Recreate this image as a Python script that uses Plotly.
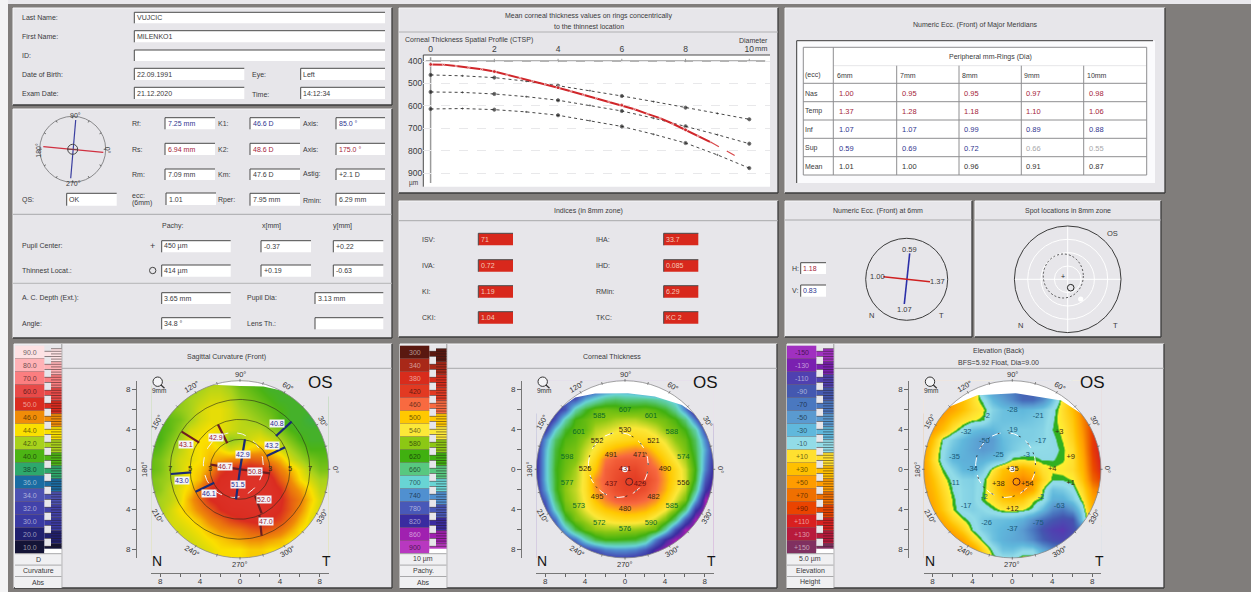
import numpy as np
import plotly.graph_objects as go

W, H = 1251, 592
FONT = "Liberation Sans, Arial"
PANEL = "#e7e6ea"
TXT = "#3a3a3c"
RED = "#a5243a"
BLUE = "#2f358f"

# ---------- data ----------
ctsp_x = [0, 0.4, 0.8, 1.2, 1.6, 2, 2.4, 2.8, 3.2, 3.6, 4, 4.4, 4.8, 5.2, 5.6, 6, 6.4, 6.8, 7.2, 7.6, 8, 8.4, 8.8]
ctsp_patient = [415, 416, 422, 428, 437, 447, 461, 477, 489, 502, 519, 535, 551, 566, 580, 596, 615, 636, 655, 680, 707, 734, 763]
ctsp_ext_x = [8.8, 9.2, 9.6]
ctsp_ext = [763, 796, 826]
norm_x = [0, 1, 2, 3, 4, 5, 6, 7, 8, 9, 10]
norm_upper = [462, 466, 474, 490, 510, 532, 556, 581, 608, 634, 660]
norm_mean = [538, 540, 547, 559, 575, 598, 623, 655, 691, 729, 769]
norm_lower = [614, 612, 617, 627, 642, 666, 692, 727, 766, 819, 878]
ctsp_xticks = [0, 2, 4, 6, 8, 10]
ctsp_yticks = [400, 500, 600, 700, 800, 900]

ecc_columns = ["6mm", "7mm", "8mm", "9mm", "10mm"]
ecc_rows = ["Nas", "Temp", "Inf", "Sup", "Mean"]
ecc_values = [["1.00", "0.95", "0.95", "0.97", "0.98"],
              ["1.37", "1.28", "1.18", "1.10", "1.06"],
              ["1.07", "1.07", "0.99", "0.89", "0.88"],
              ["0.59", "0.69", "0.72", "0.66", "0.55"],
              ["1.01", "1.00", "0.96", "0.91", "0.87"]]
indices_left = [("ISV:", "71"), ("IVA:", "0.72"), ("KI:", "1.19"), ("CKI:", "1.04")]
indices_right = [("IHA:", "33.7"), ("IHD:", "0.085"), ("RMin:", "6.29"), ("TKC:", "KC 2")]

grid_mm = list(range(-9, 10))

curv_levels = [90, 80, 70, 60, 50, 46, 44, 42, 40, 38, 36, 34, 32, 30, 20, 10]
curv_labels = ["90.0", "80.0", "70.0", "60.0", "50.0", "46.0", "44.0", "42.0", "40.0", "38.0", "36.0", "34.0", "32.0", "30.0", "20.0", "10.0"]
curv_colors = ["#fde2e4", "#ffb2b6", "#fb7e80", "#e84a48", "#da2c20", "#f08c08", "#fbe000", "#a8d21c", "#4cb414", "#2ea86c", "#1a6ca2", "#4c52b2", "#4242aa", "#3a3aa2", "#20206e", "#141436"]
curv_grid = [  # rows from y=+9 to y=-9, columns x=-9..9 (mm)
 [41,41,41,41,42,42,42,42,41,40,40,40,40,40,40,40,40,40,40],
 [41,41,41,41,41.5,42,42.5,42.5,42,41,40.5,40,39.5,39.5,39.5,39.5,39.5,39.5,39.5],
 [41,41,41,41.5,42,42.5,43,43,42.5,41.5,41,40.5,40,39.5,39.5,39.5,39.5,39.5,39.5],
 [41,41,41,41.5,42,43,43.5,43.5,43,42,41.5,41,40.5,40,39.5,39.5,39.5,39.5,39.5],
 [40,40,40.5,41,42,43,43.5,43.5,43,42.5,42,41.5,41,40,39.5,39.5,39,39,39],
 [40,40,40.5,41.5,43,43.5,44,43.5,43,42.5,42.5,42.5,41.5,41,40,39.5,39.5,39.5,39.5],
 [40,40,41,42,43.5,44,44,43,41.5,42,43,43.5,43,42,41,40,39.5,39.5,39.5],
 [40,40.5,41.5,42.5,43.5,44,44.5,44,43,43.5,44.5,45,44.5,43,42,41,40,40,40],
 [40.5,41,42,43,43.5,44,45,45.5,46,46.5,48,47.5,46,45,43,42,41,40.5,40.5],
 [40.5,41,42,43,44,44.5,46,49,50.5,51,51,50.5,49,46.5,45,43.5,42,41,41],
 [41,41.5,42,43,44,45,48,50.5,51,51.5,52,52,51,48,46,44,43,42,42],
 [41,41.5,42.5,43.5,44.5,47,50,51,51.5,52,52,52,51.5,50,47,45.5,44,42.5,42.5],
 [41.5,42,42.5,43.5,45.5,47.5,50,51,51.5,52,52,52,51.5,50.5,48,46.5,44.5,43,43],
 [41.5,42,43,44,45,46.5,48,50,51,51,51.5,51.5,51,50,48,46,44,43,43],
 [42,42.5,43,43.5,44,45,46.5,47.5,49,50,50.5,51,50,49,47,45,43.5,43,43],
 [42.5,43,43,43,43.5,44,45,46,46.5,47,48,48.5,48,47,45.5,44,43.5,43,43],
 [43,43,43,43,43,43.5,44,44.5,45,45.5,46,46,45.5,45,44,44,43.5,43,43],
 [43,43,43,43,43,43,43.5,44,44,44,44.5,44.5,44,44,44,44,43.5,43,43],
 [43,43,43,43,43,43,43.5,44,44,44,44.5,44.5,44,44,44,44,43.5,43,43],
]

pachy_levels = [300, 340, 380, 420, 460, 500, 540, 580, 620, 660, 700, 740, 780, 820, 860, 900]
pachy_labels = [str(v) for v in pachy_levels]
pachy_colors = ["#5a1810", "#a82818", "#d82c1c", "#e23a22", "#f86a40", "#ffc800", "#fce838", "#8cc814", "#40b010", "#58c880", "#68d4d4", "#5090d0", "#4858b8", "#3a2ca0", "#a020b0", "#b838c0"]
pachy_grid = [
 [840]*19,
 [820,820,820,820,820,800,780,760,740,740,750,780,800,820,850,860,860,860,860],
 [800,800,790,780,780,720,690,660,650,660,660,660,670,690,720,780,820,850,860],
 [800,800,820,780,680,630,600,595,600,607,605,600,610,630,670,750,850,860,860],
 [800,850,780,680,615,600,585,580,570,565,565,575,585,595,615,660,760,860,860],
 [790,810,700,630,605,600,565,555,545,535,535,540,555,580,595,620,680,800,850],
 [830,740,650,610,600,575,552,535,525,520,515,520,530,550,580,600,650,750,840],
 [830,720,635,600,590,560,535,505,490,480,472,480,505,530,560,590,640,730,830],
 [830,715,630,600,585,550,515,465,450,445,445,450,480,510,540,570,630,740,830],
 [830,715,625,595,570,530,500,452,440,432,430,445,458,490,520,555,620,750,840],
 [830,715,630,585,565,530,475,450,435,425,422,432,450,485,520,552,630,780,850],
 [830,730,630,580,560,530,480,455,437,428,428,438,458,490,530,565,660,810,860],
 [830,770,650,585,565,535,495,470,452,445,448,458,475,510,550,590,720,860,860],
 [830,800,690,600,575,545,520,500,490,480,482,490,510,540,585,660,810,860,860],
 [830,820,760,640,590,570,550,535,525,520,522,530,555,590,660,780,860,860,860],
 [840,830,800,720,640,600,578,572,572,576,578,585,600,680,790,860,860,860,860],
 [840,840,820,800,760,690,640,620,620,625,630,660,750,820,860,860,860,860,860],
 [840,840,840,840,820,800,780,750,740,740,750,780,830,860,860,860,860,860,860],
 [840,840,840,840,840,840,830,820,810,810,820,830,850,860,860,860,860,860,860],
]
label_x = [0, -2.58, 2.6, -4.63, 0, -2.8, 2.85, 4.7, -5.8, -1.4, 1.44, 5.85, -4, 0, 4, -5.8, -1.4, 1.5, 5.85, -2.8, 2.85, -4.63, 0, 4.7, -2.58, 0, 2.6]
label_y = [5.95, 5.35, 5.35, 3.71, 3.95, 2.8, 2.8, 3.71, 1.27, 1.4, 1.4, 1.27, 0, 0, 0, -1.34, -1.47, -1.47, -1.34, -2.8, -2.8, -3.74, -4, -3.74, -5.4, -6, -5.4]
pachy_values = [607, 585, 601, 601, 530, 552, 521, 588, 598, 491, 471, 574, 526, 431, 490, 577, 437, 429, 556, 495, 482, 573, 480, 585, 572, 576, 590]

elev_levels = [-150, -130, -110, -90, -70, -50, -30, -10, 10, 30, 50, 70, 90, 110, 130, 150]
elev_labels = ["-150", "-130", "-110", "-90", "-70", "-50", "-30", "-10", "+10", "+30", "+50", "+70", "+90", "+110", "+130", "+150"]
elev_colors = ["#a030c0", "#7a20b0", "#5040b0", "#4458b0", "#4a78c0", "#5a9ad0", "#60b8dc", "#92dce8", "#ffe030", "#ffc000", "#ff9c00", "#f07000", "#ea4400", "#d82020", "#b81a3c", "#803060"]
elev_grid = [
 [70,70,70,60,50,40,30,10,-40,-60,-70,-80,-80,-70,-50,5,40,70,100],
 [60,60,60,55,50,30,-25,-50,-60,-70,-85,-85,-70,-50,-5,5,40,90,100],
 [60,60,55,45,30,12,-5,-30,-45,-60,-80,-80,-60,-25,8,30,60,90,100],
 [60,60,55,45,30,15,5,-15,-25,-28,-30,-27,-21,-8,12,30,65,95,105],
 [60,55,45,25,12,4,0,-20,-25,-25,-25,-22,-18,-4,10,25,60,90,110],
 [55,50,30,8,-8,-25,-30,-30,-22,-19,-18,-18,-15,-2,5,22,55,95,110],
 [55,30,-3,-18,-30,-40,-50,-48,-28,-22,-18,-17,-14,-5,3,18,50,95,115],
 [55,20,-8,-25,-33,-42,-50,-45,-30,-20,-12,-8,-8,-6,0,12,45,95,115],
 [50,15,-10,-30,-35,-36,-35,-28,-22,2,3,1,-3,-3,1,10,40,90,115],
 [50,22,0,-15,-30,-34,-20,5,28,35,42,30,10,4,6,12,35,85,110],
 [50,30,8,-6,-15,-17,-5,18,35,48,60,50,18,-1,-1,3,28,75,95],
 [50,35,15,-3,-13,-16,-3,15,38,50,55,42,2,-25,-20,-8,15,55,70],
 [50,40,20,1,-13,-16,0,10,25,30,25,5,-3,-35,-35,-20,5,45,60],
 [50,45,25,3,-12,-17,-12,-3,5,8,3,-5,-30,-60,-70,-50,-10,40,55],
 [60,55,40,18,3,-8,-20,-25,-26,-28,-35,-55,-75,-90,-100,-95,-20,30,40],
 [70,60,55,40,20,-3,-18,-26,-32,-37,-50,-70,-95,-110,-115,-100,-70,-30,-20],
 [70,70,65,60,45,18,-3,-24,-34,-40,-45,-60,-85,-100,-105,-95,-70,-50,-30],
 [70,70,70,65,60,50,18,-5,-24,-25,-15,-15,-40,-60,-70,-70,-60,-50,-30],
 [70,70,70,65,60,50,25,5,-5,-5,10,10,-20,-40,-50,-50,-50,-40,-30],
]
elev_values = ["-28", "-2", "-21", "-32", "-19", "-50", "-17", "+3", "-35", "-25", "-3", "+9", "-34", "+35", "+4", "-11", "+38", "+54", "+1", "-2", "-2", "-17", "+12", "-63", "-26", "-37", "-75"]

curv_text = ["43.1", "42.9", "40.8", "43.2", "42.9", "46.7", "50.8", "43.0", "46.1", "51.5", "52.0", "47.0"]
curv_text_x = [-5.4, -2.41, 3.75, 3.21, 0.33, -1.5, 1.5, -5.8, -3.1, -0.2, 2.41, 2.6]
curv_text_y = [2.53, 3.2, 4.6, 2.41, 1.5, 0.27, -0.17, -1.14, -2.44, -1.5, -3.07, -5.28]
curv_text_red = [1, 1, 0, 0, 0, 1, 1, 0, 0, 0, 1, 1]
red_bars = [((-5.85, 3.78), (-4.08, 2.68)), ((-2.21, 4.48), (-1.27, 2.61)), ((-2.94, 0.47), (0, 0)),
            ((0, 0), (3.01, -0.40)), ((1.51, -2.68), (2.17, -4.41)), ((1.94, -4.58), (2.17, -6.66))]
blue_bars = [((5.18, 4.78), (3.61, 3.34)), ((4.52, 2.21), (2.68, 1.34)), ((0.50, 3.01), (0, 0)),
             ((0, 0), (-0.40, -3.01)), ((-6.92, -0.47), (-4.88, -0.30)), ((-4.45, -2.24), (-2.58, -1.34))]
ring_radii = [3, 5, 7]
ruler_vals = [-8, -6, -4, -2, 0, 2, 4, 6, 8]
ruler_text = ["8", "", "4", "", "0", "", "4", "", "8"]
ring_angles = [0, 30, 60, 90, 120, 150, 180, 210, 240, 270, 300, 330]
pachy_white_x = [-6.9, -6.25, -5.0, -3.0, 0.3, 3.0, 5.7, 7.36, 8.2, 9, 9, -9, -9]
pachy_white_y = [5.6, 6.29, 7.2, 7.6, 7.63, 7.3, 6.45, 5.3, 4.6, 4.6, 9, 9, 5.6]
elev_white_x = [-6.9, -6.25, -3.5, 0.3, 4.9, 7.36, 8.2, 9, 9, -9, -9]
elev_white_y = [5.6, 6.29, 7.42, 7.63, 6.9, 5.3, 4.6, 4.6, 9, 9, 5.6]
curv_white_x = [-3.4, -2.7, 0, 2.34, 4.35, 5.2, 9, 9, -9, -9]
curv_white_y = [8.4, 8.48, 8.35, 8.3, 7.85, 7.3, 7.3, 9, 9, 8.4]

# ---------- helpers ----------
shapes, anns = [], []
fx = lambda x: x / W
fy = lambda y: 1 - y / H


def rect(x0, y0, x1, y1, fill, layer="below"):
    shapes.append(dict(type="rect", xref="paper", yref="paper", x0=fx(x0), x1=fx(x1), y0=fy(y0), y1=fy(y1),
                       fillcolor=fill, line=dict(width=0), layer=layer))


def line(x0, y0, x1, y1, color="#333", w=1, dash="solid", layer="below"):
    shapes.append(dict(type="line", xref="paper", yref="paper", x0=fx(x0), x1=fx(x1), y0=fy(y0), y1=fy(y1),
                       line=dict(color=color, width=w, dash=dash), layer=layer))


def circle(cx, cy, rx, ry=None, color="#333", w=1, dash="solid", fill=None, layer="below"):
    ry = rx if ry is None else ry
    shapes.append(dict(type="circle", xref="paper", yref="paper", x0=fx(cx - rx), x1=fx(cx + rx), y0=fy(cy + ry), y1=fy(cy - ry),
                       line=dict(color=color, width=w, dash=dash), fillcolor=fill or "rgba(0,0,0,0)", layer=layer))


def text(x, y, s, size=7, color=TXT, anchor="left", angle=0, family=FONT):
    anns.append(dict(xref="paper", yref="paper", x=fx(x), y=fy(y), text=s, showarrow=False, xanchor=anchor, yanchor="middle",
                     font=dict(size=size, color=color, family=family), textangle=angle, borderpad=0, borderwidth=0))


def panel(x0, y0, x1, y1):
    rect(x0, y0, x1, y1, PANEL)
    line(x0, y0, x1, y0, "#f6f6f8", 1)
    line(x0, y0, x0, y1, "#f6f6f8", 1)
    line(x1, y0, x1, y1, "#3c3c3c", 1.3)
    line(x0, y1, x1, y1, "#3c3c3c", 1.3)


def field(x0, y0, x1, y1, s="", color=TXT, fill="#ffffff", tcolor=None):
    rect(x0, y0, x1, y1, fill)
    line(x0, y0, x1, y0, "#4a4a4a", 1)
    line(x0, y0, x0, y1, "#4a4a4a", 1)
    text(x0 + 2.5, (y0 + y1) / 2, s, 7, tcolor or color)


def hex2rgb(c):
    return [int(c[i:i + 2], 16) for i in (1, 3, 5)]


def legend_text(c):
    r, g, b = hex2rgb(c)
    lum = 0.3 * r + 0.59 * g + 0.11 * b
    t = 0 if lum > 95 else 255
    k = 0.55
    return "rgb(%d,%d,%d)" % tuple(int(v + (t - v) * k) for v in (r, g, b))


# ---------- background ----------
rect(0, 0, W, 4, "#e9e8ec")
rect(0, 0, 8, H, "#f4f4f5")

# ---------- patient panel ----------
panel(13, 8, 392, 105)
rows = [("Last Name:", 17.7), ("First Name:", 36.5), ("ID:", 55.5), ("Date of Birth:", 74), ("Exam Date:", 93)]
for s, y in rows:
    text(21.7, y, s)
field(134.3, 12.3, 385, 23.3, "VUJCIC")
field(134.3, 30.7, 385, 42.3, "MILENKO1")
field(134.3, 50, 385, 61)
field(134.3, 68.3, 244.3, 80, "22.09.1991")
field(134.3, 87.3, 244.3, 99, "21.12.2020")
text(251.7, 75, "Eye:")
text(251.7, 94, "Time:")
field(300.7, 68.3, 385, 80, "Left")
field(300.7, 87.3, 385, 99, "14:12:34")

# ---------- keratometry panel ----------
panel(13, 109, 392, 338)
ky = [(117.7, 129.3), (143.3, 155), (169, 180)]
cols = [(131.7, 165, 215), (218.3, 250, 300), (302.7, 336, 385)]
kdata = [[("Rf:", "7.25 mm", BLUE), ("K1:", "46.6 D", BLUE), ("Axis:", "85.0 °", BLUE)],
         [("Rs:", "6.94 mm", RED), ("K2:", "48.6 D", RED), ("Axis:", "175.0 °", RED)],
         [("Rm:", "7.09 mm", TXT), ("Km:", "47.6 D", TXT), ("Astig:", "+2.1 D", TXT)]]
for (y0, y1), row in zip(ky, kdata):
    for (lx, a, b), (lab, val, c) in zip(cols, row):
        text(lx, (y0 + y1) / 2, lab)
        field(a, y0, b, y1, val, c)
text(21.7, 200, "QS:")
field(66.7, 193.3, 116.7, 205.7, "OK")
text(131.7, 195, "ecc:")
text(131.7, 203, "(6mm)")
field(166, 193, 216, 205, "1.01")
text(218.3, 200, "Rper:")
field(250, 193.3, 300, 205.7, "7.95 mm")
text(302.7, 200, "Rmin:")
field(336, 193.3, 385, 205.7, "6.29 mm")
line(13, 214.3, 392, 214.3, "#a8a8aa", 1)
line(13, 283.3, 392, 283.3, "#b4b4b6", 1)
text(162.3, 225.7, "Pachy:")
text(261.7, 225.7, "x[mm]")
text(333.3, 225.7, "y[mm]")
text(21.7, 246.3, "Pupil Center:")
text(21.7, 270.5, "Thinnest Locat.:")
text(152.7, 246.3, "+", 9, anchor="center")
circle(152.7, 270.5, 3.2, color="#444", w=1)
field(161.7, 240.7, 230.7, 252.3, "450 µm")
field(261, 240.7, 311, 252.3, "-0.37")
field(333.3, 240.7, 383.3, 252.3, "+0.22")
field(161.7, 265, 230.7, 276.7, "414 µm")
field(261, 265, 311, 276.7, "+0.19")
field(333.3, 265, 383.3, 276.7, "-0.63")
text(21.7, 298.3, "A. C. Depth (Ext.):")
field(161.7, 292.7, 230.7, 304, "3.65 mm")
text(246.7, 298.3, "Pupil Dia:")
field(315, 292.7, 383.3, 304, "3.13 mm")
text(21.7, 323.5, "Angle:")
field(161.7, 317.7, 230.7, 329.3, "34.8 °")
text(246.7, 323.5, "Lens Th.:")
field(315, 317.7, 383.3, 329.3)
# axis gadget
circle(72.7, 149.3, 33, color="#8a8a8c", w=1)
for a in range(0, 360, 30):
    t = np.radians(a)
    line(72.7 + 31 * np.cos(t), 149.3 - 31 * np.sin(t), 72.7 + 33 * np.cos(t), 149.3 - 33 * np.sin(t), "#666", 1)
line(75.7, 120, 70.7, 178.3, "#3a3ea0", 1.2)
line(43.3, 146.7, 103.3, 152.3, "#d03040", 1.2)
circle(72.7, 149.3, 5, color="#444", w=1)
line(67, 149.3, 78, 149.3, "#444", 0.7)
text(75, 115, "90°", 7, TXT, "center")
text(73.3, 184, "270°", 7, TXT, "center")
text(37.7, 150, "180°", 7, TXT, "center", -90)
text(108.3, 150, "0°", 7, TXT, "center", 90)

# ---------- CTSP panel ----------
panel(399, 8, 778, 193)
text(588.7, 15.7, "Mean corneal thickness values on rings concentrically", 7, TXT, "center")
text(588.7, 26.3, "to the thinnest location", 7, TXT, "center")
line(399, 32, 778, 32, "#b0b0b2", 1)
text(405, 40.3, "Corneal Thickness Spatial Profile (CTSP)", 7)
text(767.7, 40.3, "Diameter", 7, TXT, "right")
text(768, 48, "mm", 7.5, TXT, "right")
rect(423.3, 55, 770, 186.7, "#ffffff")
line(423.3, 55, 770, 55, "#4a4a4a", 1)
line(423.3, 55, 423.3, 186.7, "#4a4a4a", 1)
text(413.3, 182.7, "µm", 6.5, TXT, "center")

# ---------- ecc table panel ----------
panel(785, 8, 1165, 193)
text(975, 25, "Numeric Ecc. (Front) of Major Meridians", 7, TXT, "center")
rect(796.7, 40.7, 1155, 183, "#fbfbfd")
line(796.7, 40.7, 1153, 40.7, "#3c3c3c", 1)
line(796.7, 40.7, 796.7, 183, "#3c3c3c", 1)
vx = [803.3, 833.3, 896.7, 959, 1021.3, 1083.7, 1146.7]
hy = [47.3, 65.7, 83.3, 101.7, 120, 138.3, 156.7, 175]
rect(803.3, 47.3, 1146.7, 175, "#ffffff")
for i, y in enumerate(hy):
    line(803.3 if i != 1 else 833.3, y, 1146.7, y, "#8e8e90" if i != 1 else "#e6e6e8", 1)
for i, x in enumerate(vx):
    line(x, 47.3 if i in (0, 1, 6) else 65.7, x, 175, "#8e8e90", 1)
text(990.7, 56.7, "Peripheral mm-Rings (Dia)", 7, TXT, "center")
text(805, 75, "(ecc)", 7)
tx = [839, 901.7, 964, 1026, 1088.7]
hx = [836.7, 900, 961.7, 1024.3, 1087]
ty = [93, 111.3, 129.7, 148, 166]
for x, s in zip(hx, ecc_columns):
    text(x, 75, s, 7)
for r, (y, name, vals) in enumerate(zip(ty, ecc_rows, ecc_values)):
    text(805, y, name, 7)
    for c, (x, v) in enumerate(zip(tx, vals)):
        col = RED if r < 2 else BLUE if r == 2 or (r == 3 and c < 3) else "#a8a8aa" if r == 3 else "#333"
        text(x, y, v, 7.5, col)

# ---------- indices ----------
panel(399, 201, 778, 337)
text(588.3, 211, "Indices (in 8mm zone)", 7, TXT, "center")
line(399, 220.7, 778, 220.7, "#a8a8aa", 1)
irow = [239.3, 265.7, 291.7, 317.7]
for y, (lab, val) in zip(irow, indices_left):
    text(422.3, y, lab)
    field(478.3, y - 6, 513, y + 6, val, fill="#d8281c", tcolor="#f4c8b8")
for y, (lab, val) in zip(irow, indices_right):
    text(596, y, lab)
    field(663.7, y - 6, 698.3, y + 6, val, fill="#d8281c", tcolor="#f4c8b8")

# ---------- ecc @6mm ----------
panel(785, 201, 972, 337)
text(878.3, 211, "Numeric Ecc. (Front) at 6mm", 7, TXT, "center")
line(785, 220, 972, 220, "#a8a8aa", 1)
text(795, 268.3, "H:", 7, TXT, "center")
text(795, 290.7, "V:", 7, TXT, "center")
field(800.7, 262.7, 826, 274, "1.18", RED)
field(800.7, 285, 826, 296.7, "0.83", BLUE)
circle(906.7, 279.3, 41, color="#3c3c3c", w=1)
line(909.7, 253.3, 904.3, 304, "#2b2fa8", 1.6)
line(883.3, 276.7, 930, 281.7, "#d02020", 1.6)
text(909.7, 249, "0.59", 7.5, TXT, "center")
text(877, 276.7, "1.00", 7.5, TXT, "center")
text(937.5, 281.7, "1.37", 7.5, TXT, "center")
text(904.3, 309, "1.07", 7.5, TXT, "center")
text(871, 315.7, "N", 7.5, TXT, "center")
text(941.7, 315.7, "T", 7.5, TXT, "center")

# ---------- spot locations ----------
panel(975, 201, 1161, 337)
text(1067.7, 211, "Spot locations in 8mm zone", 7, TXT, "center")
line(975, 220, 1161, 220, "#a8a8aa", 1)
for r in (13.3, 26.7, 40):
    circle(1067.7, 279.3, r, color="#ffffff", w=1)
line(1014.4, 279.3, 1121, 279.3, "#ffffff", 1)
line(1067.7, 226, 1067.7, 332.6, "#ffffff", 1)
circle(1067.7, 279.3, 53.3, color="#3c3c3c", w=1)
circle(1063.3, 276, 20, 22, color="#333", w=0.8, dash="2px,2px")
text(1062.7, 276, "+", 7, "#222", "center")
circle(1070.7, 287.7, 3.3, color="#222", w=1)
circle(1080.7, 299, 2.6, color="#ffffff", w=0, fill="#ffffff")
text(1112.7, 233, "OS", 7.5, TXT, "center")
text(1020, 325, "N", 7.5, TXT, "center")
text(1115.7, 325, "T", 7.5, TXT, "center")

# ---------- figure ----------
fig = go.Figure()
dot_line = dict(color="#333", width=0.9, dash="dot")
for series in (norm_upper, norm_mean, norm_lower):
    fig.add_trace(go.Scatter(x=norm_x, y=series, mode="lines+markers", line=dot_line,
                             marker=dict(size=[3.2 if v % 2 == 0 else 1.2 for v in norm_x], color="#111"), xaxis="x", yaxis="y"))
fig.add_trace(go.Scatter(x=ctsp_x, y=ctsp_patient, mode="lines+markers", line=dict(color="#d0262a", width=2),
                         marker=dict(size=[4 if float(v).is_integer() and v % 2 == 0 else 2 for v in ctsp_x], color="#d0262a"), xaxis="x", yaxis="y"))
fig.add_trace(go.Scatter(x=ctsp_ext_x, y=ctsp_ext, mode="lines", line=dict(color="#d8484a", width=1.2, dash="dash"), xaxis="x", yaxis="y"))
shapes.append(dict(type="line", xref="x", yref="y", x0=-0.15, x1=10.5, y0=400, y1=400, line=dict(color="#9a9a9a", width=1.5), layer="below"))
shapes.append(dict(type="line", xref="x", yref="y", x0=0, x1=0, y0=383, y1=945, line=dict(color="#9a9a9a", width=1.5), layer="below"))
for v in ctsp_xticks[1:]:
    shapes.append(dict(type="line", xref="x", yref="y", x0=v, x1=v, y0=390, y1=405, line=dict(color="#9a9a9a", width=1), layer="below"))

layout_axes = dict(
    xaxis=dict(domain=[fx(423.3), fx(770)], range=[-0.229, 10.65], side="top", tickvals=ctsp_xticks,
               ticktext=[str(v) for v in ctsp_xticks], showgrid=False, zeroline=False, ticks="",
               tickfont=dict(size=8.5, color=TXT, family=FONT), anchor="y", showline=False),
    yaxis=dict(domain=[fy(186.7), fy(55)], range=[961, 373], tickvals=ctsp_yticks, showgrid=True,
               gridcolor="#e8e8ea", griddash="dash", gridwidth=1, zeroline=False, ticks="",
               tickfont=dict(size=8.5, color=TXT, family=FONT), anchor="x", showline=False),
)

CY = 469.3
R = 8.88
theta = np.radians(np.arange(0, 361, 2))
maps = [
    dict(cx=240, lx=15, curve="curv", levels=curv_levels, labels=curv_labels, colors=curv_colors, grid=curv_grid,
         zmin=10, zmax=90, title=["Sagittal Curvature (Front)"], foot=["D", "Curvature", "Abs"],
         white=(curv_white_x, curv_white_y), panel=(14, 392), dash="#f4f4f4"),
    dict(cx=625, lx=400, curve="pachy", levels=pachy_levels, labels=pachy_labels, colors=pachy_colors, grid=pachy_grid,
         zmin=300, zmax=900, title=["Corneal Thickness"], foot=["10 µm", "Pachy.", "Abs"],
         white=(pachy_white_x, pachy_white_y), panel=(400, 777), dash="#ffffff"),
    dict(cx=1012.3, lx=787, curve="elev", levels=elev_levels, labels=elev_labels, colors=elev_colors, grid=elev_grid,
         zmin=-150, zmax=150, title=["Elevation (Back)", "BFS=5.92 Float, Dia=9.00"], foot=["5.0 µm", "Elevation", "Height"],
         white=(elev_white_x, elev_white_y), panel=(787, 1164), dash="#ffffff"),
]

for k, m in enumerate(maps):
    ax = k + 2
    cx, lx = m["cx"], m["lx"]
    xa, ya = f"x{ax}", f"y{ax}"
    p0, p1 = m["panel"]
    panel(p0, 344, p1, 588)
    # legend
    ladr = lx + 46.5
    line(ladr + 0.3, 344, ladr + 0.3, 588, "#9a9a9c", 1)
    header_mid = (ladr + p1) / 2
    line(ladr, 368.3, p1, 368.3, "#a8a8aa", 1)
    if len(m["title"]) == 1:
        text(header_mid, 356.7, m["title"][0], 7, TXT, "center")
    else:
        text(header_mid, 351, m["title"][0], 7, TXT, "center")
        text(header_mid, 362, m["title"][1], 7, TXT, "center")
    top = 345.7
    for i, (lab, c) in enumerate(zip(m["labels"], m["colors"])):
        y0 = top + 13 * i
        # ladder column
        rect(lx + 36, y0 + 3, ladr, y0 + 16 if i < 15 else y0 + 8.5, c)
        rect(lx + 29.3, y0 + 5.5, lx + 36, y0 + 10.5, c)
        for q in (3, 5.6, 8.2, 10.8, 13.4):
            if i == 15 and q > 8:
                continue
            line(lx + 36 if q not in (5.6, 10.8) else lx + 29.3, y0 + q, ladr, y0 + q, "#241818", 0.5)
        rect(lx, y0, lx + 29.3, y0 + 13, c)
        line(lx, y0 + 13, lx + 29.3, y0 + 13, "#4a2a2a", 0.5)
        text(lx + 14.6, y0 + 6.5, lab, 7, legend_text(c), "center")
    rect(lx + 29.3, 548.7, ladr, 553.7, "#ffffff")
    for i, s in enumerate(m["foot"]):
        y0 = 553.7 + 11.4 * i
        rect(lx, y0, ladr, y0 + 11.4, "#f0f0f2")
        line(lx, y0, ladr, y0, "#a8a8aa", 1)
        text(lx + 23.2, y0 + 5.7, s, 7, TXT, "center")

    # colour map
    cs = m["colors"]
    if m["curve"] == "elev":
        stops = []
        for v, c in zip(m["levels"], cs):
            if v == 10:
                stops += [(-2.6, "#8ed8e6"), (-2, "#30b020"), (2, "#30b020"), (2.6, "#fff030")]
            stops.append((v, c))
    else:
        stops = sorted(zip(m["levels"], cs))
    scale = [[(v - m["zmin"]) / (m["zmax"] - m["zmin"]), c] for v, c in stops]
    z = [row for row in reversed(m["grid"])]
    fig.add_trace(go.Heatmap(x=grid_mm, y=grid_mm, z=z, zsmooth="best", colorscale=scale, zmin=m["zmin"], zmax=m["zmax"],
                             showscale=False, hoverinfo="skip", xaxis=xa, yaxis=ya))
    axis_font = dict(size=8, color=TXT, family=FONT)
    layout_axes[f"xaxis{ax}"] = dict(domain=[fx(cx - 88.8), fx(cx + 88.8)], range=[-8.9, 8.9], anchor="free", position=fy(573),
                                     tickvals=ruler_vals, ticktext=ruler_text, ticks="outside", ticklen=3, tickcolor="#666",
                                     showgrid=False, zeroline=False, showline=True, linecolor="#777", tickfont=axis_font,
                                     side="bottom", ticklabelstandoff=-3)
    layout_axes[f"yaxis{ax}"] = dict(domain=[fy(CY + 88.8), fy(CY - 88.8)], range=[-8.9, 8.9], anchor="free", position=fx(cx - 104),
                                     tickvals=ruler_vals, ticktext=ruler_text, ticks="outside", ticklen=4, tickcolor="#666",
                                     showgrid=False, zeroline=False, showline=True, linecolor="#777", tickfont=axis_font, side="left")

    # pupil dashed outline
    t2 = np.radians(np.arange(0, 361, 3))
    fig.add_trace(go.Scatter(x=-0.67 + 3.0 * np.cos(t2), y=0.43 + 3.25 * np.sin(t2), mode="lines",
                             line=dict(color=m["dash"], width=1, dash="dash"), xaxis=xa, yaxis=ya))
    if k > 0:
        fig.add_trace(go.Scatter(x=-0.67 + 3.0 * np.cos(t2), y=0.43 + 3.25 * np.sin(t2), mode="lines",
                                 line=dict(color="#222", width=0.8, dash="2px,9px"), xaxis=xa, yaxis=ya))

    if k == 0:
        for r in ring_radii:
            fig.add_trace(go.Scatter(x=r * np.cos(theta), y=r * np.sin(theta), mode="lines",
                                     line=dict(color="#2a2a1c", width=0.6), xaxis=xa, yaxis=ya))
            for sx in (-1, 1):
                anns.append(dict(xref=xa, yref=ya, x=sx * r, y=0.05, text=str(r), showarrow=False,
                                 font=dict(size=7.5, color="#2a2a1c", family=FONT)))
        for segs, c in ((red_bars, "#6e1e20"), (blue_bars, "#1a2a74")):
            for (a, b) in segs:
                fig.add_trace(go.Scatter(x=[a[0], b[0]], y=[a[1], b[1]], mode="lines", line=dict(color=c, width=2.2),
                                         xaxis=xa, yaxis=ya))
        for s, x, y, red in zip(curv_text, curv_text_x, curv_text_y, curv_text_red):
            anns.append(dict(xref=xa, yref=ya, x=x, y=y, text=s, showarrow=False, bgcolor="#f4f4f8", borderpad=0,
                             font=dict(size=7, color="#a02030" if red else "#2a2a90", family=FONT)))
    else:
        vals = pachy_values if k == 1 else elev_values
        if k == 1:
            cols_txt = ["#0a6a2a" if v >= 560 else "#701010" if v < 450 else "#3a2a10" for v in vals]
        else:
            cols_txt = ["#1a5a78" if v.startswith("-") else "#3a2a10" for v in vals]
        fig.add_trace(go.Scatter(x=[0], y=[0], mode="markers", marker=dict(size=6, color="#ffffff"), xaxis=xa, yaxis=ya))
        fig.add_trace(go.Scatter(x=label_x, y=label_y, mode="text", text=[str(v) for v in vals],
                                 textfont=dict(size=7.5, color=cols_txt, family=FONT), xaxis=xa, yaxis=ya))
        fig.add_trace(go.Scatter(x=[0.42], y=[-1.25], mode="markers",
                                 marker=dict(size=7, color="rgba(0,0,0,0)", line=dict(color="#5a2020", width=1)), xaxis=xa, yaxis=ya))

    # white area (no data) and outer mask, above the map
    wx, wy = m["white"]
    path = "M" + " L".join(f"{x},{y}" for x, y in zip(wx, wy)) + " Z"
    shapes.append(dict(type="path", xref=xa, yref=ya, path=path, fillcolor="#ffffff", line=dict(width=0), layer="above"))
    circ = " L".join(f"{R * np.cos(t):.3f},{R * np.sin(t):.3f}" for t in theta[:-1])
    mask = f"M-9.5,-9.5 L9.5,-9.5 L9.5,9.5 L-9.5,9.5 Z M{circ} Z"
    shapes.append(dict(type="path", xref=xa, yref=ya, path=mask, fillcolor=PANEL, line=dict(width=0), layer="above"))

    # ring, ticks, angle labels
    s = 88.8 / 8.9
    circle(cx, CY, R * s, color="#8a8a8c", w=0.8, layer="above")
    for a in range(0, 360, 15):
        t = np.radians(a)
        line(cx + 8.78 * s * np.cos(t), CY - 8.78 * s * np.sin(t), cx + 9.05 * s * np.cos(t), CY - 9.05 * s * np.sin(t), "#666", 0.8, layer="above")
    rot = {0: 90, 30: 60, 60: 30, 90: 0, 120: -30, 150: -60, 180: -90, 210: 60, 240: 30, 270: 0, 300: -30, 330: -60}
    for a in ring_angles:
        t = np.radians(a)
        text(cx + 9.55 * s * np.cos(t), CY - 9.55 * s * np.sin(t), f"{a}°", 7.5, "#333", "center", rot[a])
    text(cx + 80, 382.7, "OS", 17, "#151515", "center")
    text(cx - 82.7, 560.7, "N", 14, "#151515", "center")
    text(cx + 86.7, 560.7, "T", 14, "#151515", "center")
    circle(cx - 82.3, 381.7, 4.7, color="#333", w=1, fill="#f4f4f6", layer="above")
    line(cx - 79, 385, cx - 75.5, 388.3, "#333", 1.2, layer="above")
    text(cx - 81, 390.7, "9mm", 6.5, "#333", "center")

for tr in fig.data:
    if tr.type == "scatter":
        tr.hoverinfo = "skip"

fig.update_layout(width=W, height=H, margin=dict(l=0, r=0, t=0, b=0), paper_bgcolor="#807d7b",
                  plot_bgcolor="rgba(0,0,0,0)", showlegend=False, shapes=shapes, annotations=anns, **layout_axes)
fig.write_html("out.html", config=dict(displayModeBar=False),
               post_script="document.body.style.margin='0';document.body.style.background='#807d7b';")
